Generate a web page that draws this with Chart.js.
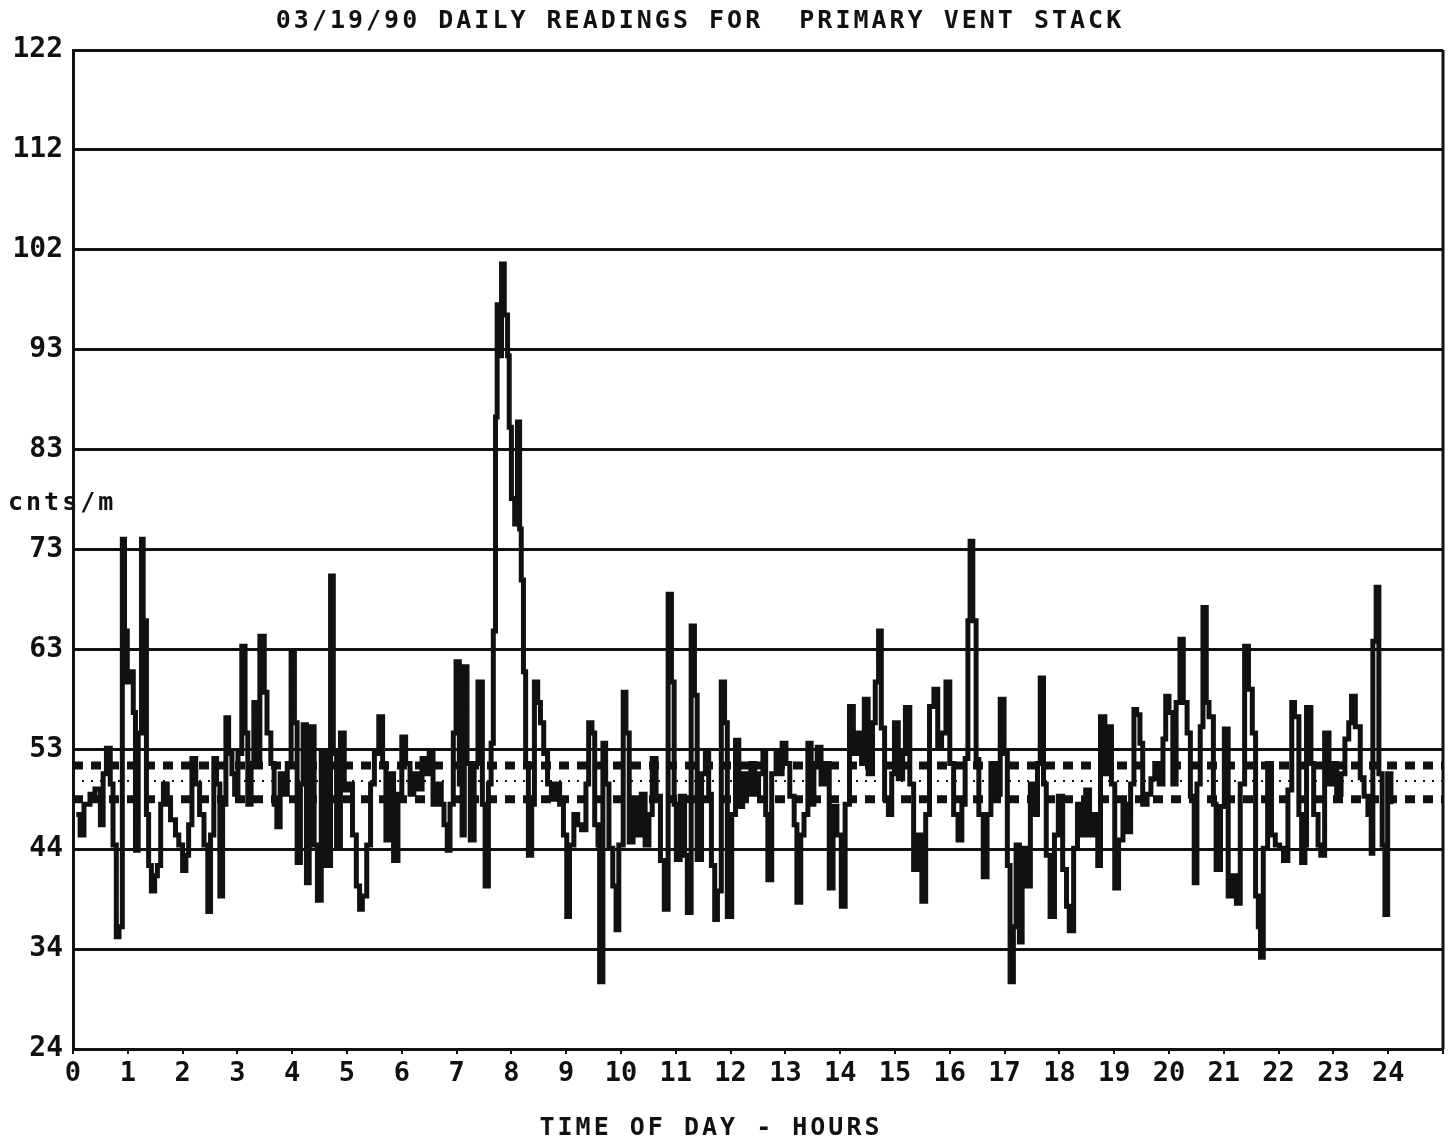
<!DOCTYPE html>
<html>
<head>
<meta charset="utf-8">
<title>03/19/90 Daily readings - primary vent stack</title>
<script src="https://cdn.jsdelivr.net/npm/chart.js@4.4.1/dist/chart.umd.min.js"></script>
<style>
  html, body { margin: 0; padding: 0; background: #fff; }
  #chart { display: block; }
</style>
</head>
<body>
<canvas id="chart" width="1451" height="1145"></canvas>
<script>
// readings: time of day (hours) and counts per minute
const hours = [
  0.06, 0.13, 0.20, 0.31, 0.40, 0.50, 0.55, 0.61, 0.68, 0.73, 0.79, 0.84, 0.90, 0.94, 0.99,
  1.05, 1.10, 1.14, 1.19, 1.25, 1.28, 1.34, 1.38, 1.43, 1.49, 1.54, 1.60, 1.65, 1.72, 1.78, 1.87, 1.93,
  2.00, 2.06, 2.11, 2.17, 2.24, 2.31, 2.39, 2.46, 2.51, 2.57, 2.62, 2.68, 2.73, 2.79, 2.84, 2.90, 2.95,
  3.01, 3.08, 3.14, 3.19, 3.25, 3.30, 3.36, 3.41, 3.49, 3.54, 3.61, 3.67, 3.72, 3.78, 3.85, 3.91, 3.98,
  4.04, 4.09, 4.15, 4.20, 4.26, 4.31, 4.35, 4.40, 4.46, 4.53, 4.61, 4.70, 4.75, 4.81, 4.88, 4.95,
  5.03, 5.10, 5.17, 5.23, 5.28, 5.36, 5.43, 5.50, 5.58, 5.65, 5.71, 5.78, 5.85, 5.93,
  6.00, 6.07, 6.15, 6.22, 6.29, 6.37, 6.44, 6.50, 6.57, 6.64, 6.72, 6.77, 6.83, 6.88, 6.94, 6.99,
  7.05, 7.10, 7.14, 7.19, 7.25, 7.32, 7.39, 7.47, 7.52, 7.58, 7.63, 7.67, 7.71, 7.74, 7.78, 7.82, 7.87, 7.93, 7.96,
  8.00, 8.06, 8.11, 8.15, 8.18, 8.22, 8.26, 8.31, 8.37, 8.42, 8.48, 8.53, 8.59, 8.66, 8.73, 8.81, 8.88, 8.95,
  9.01, 9.06, 9.14, 9.21, 9.28, 9.36, 9.41, 9.47, 9.52, 9.58, 9.61, 9.67, 9.72, 9.78, 9.85, 9.91, 9.96,
  10.04, 10.09, 10.15, 10.22, 10.29, 10.37, 10.44, 10.51, 10.57, 10.64, 10.72, 10.79, 10.86, 10.92, 10.97,
  11.01, 11.08, 11.16, 11.21, 11.28, 11.34, 11.39, 11.47, 11.54, 11.60, 11.65, 11.71, 11.76, 11.83, 11.89, 11.94,
  12.02, 12.09, 12.15, 12.22, 12.29, 12.37, 12.44, 12.51, 12.59, 12.64, 12.68, 12.75, 12.83, 12.88, 12.94,
  13.01, 13.08, 13.16, 13.21, 13.28, 13.34, 13.41, 13.47, 13.52, 13.58, 13.65, 13.72, 13.80, 13.87, 13.94,
  14.02, 14.09, 14.17, 14.24, 14.31, 14.39, 14.44, 14.51, 14.59, 14.64, 14.70, 14.75, 14.81, 14.88, 14.94, 14.99,
  15.06, 15.14, 15.19, 15.27, 15.34, 15.41, 15.49, 15.56, 15.63, 15.71, 15.78, 15.85, 15.93,
  16.00, 16.07, 16.15, 16.22, 16.28, 16.33, 16.37, 16.42, 16.48, 16.53, 16.61, 16.68, 16.75, 16.83, 16.92, 16.99,
  17.05, 17.10, 17.16, 17.21, 17.27, 17.32, 17.39, 17.47, 17.54, 17.60, 17.65, 17.71, 17.76, 17.83, 17.91, 17.98,
  18.06, 18.13, 18.18, 18.26, 18.33, 18.40, 18.48, 18.55, 18.62, 18.70, 18.75, 18.83, 18.88, 18.95,
  19.01, 19.08, 19.16, 19.23, 19.30, 19.36, 19.41, 19.47, 19.52, 19.60, 19.67, 19.74, 19.82, 19.89, 19.94,
  20.00, 20.07, 20.13, 20.20, 20.26, 20.33, 20.39, 20.46, 20.51, 20.57, 20.62, 20.68, 20.73, 20.81, 20.86, 20.94,
  21.01, 21.08, 21.16, 21.23, 21.30, 21.38, 21.45, 21.52, 21.58, 21.63, 21.67, 21.72, 21.80, 21.87, 21.94,
  22.02, 22.09, 22.17, 22.24, 22.29, 22.37, 22.42, 22.48, 22.51, 22.59, 22.64, 22.72, 22.77, 22.84, 22.92, 22.99,
  23.06, 23.14, 23.21, 23.28, 23.33, 23.40, 23.49, 23.56, 23.63, 23.69, 23.72, 23.78, 23.83, 23.89, 23.94, 23.99,
  24.05
];
const counts = [
  47, 45, 48, 49, 49.5, 46, 51, 53.5, 50, 44, 35, 36, 74, 65, 60,
  61, 57, 43.5, 55, 74, 66, 47, 42, 39.5, 41, 42, 48, 50, 48, 46.5, 45, 44,
  41.5, 43, 46, 52.5, 50, 47, 44, 37.5, 45, 52.5, 50, 39, 48, 56.5, 53, 51, 49,
  53, 63.5, 55, 48, 52, 58, 52, 64.5, 59, 55, 52, 48, 45.8, 51, 49, 52, 63,
  56, 42.3, 50, 55.8, 40.3, 47, 55.6, 44, 38.6, 53, 42, 70.4, 53, 43.9, 55, 49.4,
  50, 45, 40, 37.7, 39, 44, 50, 53, 56.6, 52, 44.5, 51, 42.5, 49,
  54.6, 52, 49, 51, 49.5, 52.5, 51, 53, 48, 50, 48, 46, 43.5, 48, 55, 62,
  50, 45, 61.5, 52, 44.5, 52, 60, 48, 40, 50, 54, 65, 86, 97, 92, 101, 96, 92, 85,
  78, 75.5, 85.5, 75, 70, 61, 52, 43, 48, 60, 58, 56, 53, 50, 48.5, 50, 48, 45,
  37, 44, 47, 46, 45.5, 50, 56, 55, 46, 44, 30.6, 54, 50, 43.7, 40, 35.7, 44,
  59, 55, 44.3, 48, 45, 49, 44, 47, 52.5, 48.8, 42.5, 37.7, 68.6, 60, 48,
  42.6, 48.8, 43, 37.4, 65.5, 58.7, 42.6, 51, 53, 49, 42, 36.7, 39.5, 60, 56, 37,
  47, 54.3, 47.8, 51, 49, 52, 49, 51, 53, 47, 40.6, 51, 53, 51, 54,
  52, 48.8, 46, 38.4, 45, 47, 54, 48, 52, 53.6, 50, 52, 39.8, 47.8, 45,
  38, 48, 57.6, 53, 55, 52, 58.3, 51, 56, 60, 65, 55.5, 48.5, 47, 51, 56,
  50.5, 53, 57.5, 50, 41.6, 45, 38.5, 47, 57.6, 59.3, 53.6, 55, 60,
  52, 47, 44.5, 48, 52.5, 66, 73.8, 66, 52.4, 47, 40.9, 47, 52, 49, 58.3, 53,
  42, 30.6, 36, 44, 34.5, 43.7, 40, 50, 47, 52, 60.4, 50, 43, 37, 45, 48.8,
  41.6, 38, 35.6, 43.7, 48, 45, 49.4, 45, 47, 42, 56.6, 51, 55.6, 50,
  39.8, 44.5, 48, 45.3, 50, 57.3, 56.8, 54, 48, 49, 50.5, 52, 50, 54.4, 58.6,
  57, 50, 58, 64.2, 58, 55, 48.8, 40.3, 50, 55.6, 67.3, 58, 56.6, 48, 41.6, 47.8,
  55.4, 39, 41, 38.3, 50, 63.5, 59.3, 55, 39, 36, 33, 43.7, 52, 45, 44,
  43.7, 42.5, 49.4, 58, 56.6, 47, 42.3, 44, 57.5, 52, 47, 44, 43, 55, 50, 52,
  49, 51, 54.4, 56, 58.6, 55.6, 50.6, 48.8, 47, 43.2, 64, 69.3, 51, 44, 37.2, 51,
  48
];

// daily mean (dotted) and the band around it (dashed)
const meanLevel = 50.3;
const bandLevels = [51.8, 48.5];

const yTickLabels = ['24', '34', '44', '53', '63', '73', '83', '93', '102', '112', '122'];
const hourLabels = ['0', '1', '2', '3', '4', '5', '6', '7', '8', '9', '10', '11', '12',
  '13', '14', '15', '16', '17', '18', '19', '20', '21', '22', '23', '24'];

const TITLE = '03/19/90 DAILY READINGS FOR  PRIMARY VENT STACK';
const X_TITLE = 'TIME OF DAY - HOURS';
const Y_TITLE = 'cnts/m';

const INK = '#111';
const MONO = '"DejaVu Sans Mono", "Liberation Mono", monospace';
const Y_MIN = 24, Y_MAX = 122, Y_STEP = 9.8;
const X_MIN = 0, X_MAX = 25;

// flat line across the whole day at one level
function level(v) {
  return [{ x: X_MIN, y: v }, { x: X_MAX, y: v }];
}

// frame on the right side + the free text (title, axis captions)
const captions = {
  id: 'captions',
  afterDatasetsDraw(chart) {
    const { ctx, chartArea } = chart;
    ctx.save();
    ctx.strokeStyle = INK;
    ctx.lineWidth = 3;
    ctx.beginPath();
    ctx.moveTo(chartArea.right, chartArea.top);
    ctx.lineTo(chartArea.right, chartArea.bottom);
    ctx.stroke();
    ctx.restore();
  },
  afterDraw(chart) {
    const { ctx } = chart;
    ctx.save();
    ctx.fillStyle = INK;
    ctx.textBaseline = 'middle';
    if ('letterSpacing' in ctx) ctx.letterSpacing = '3px';
    ctx.font = 'bold 25px ' + MONO;
    ctx.textAlign = 'center';
    ctx.fillText(TITLE, 700, 21);
    ctx.fillText(X_TITLE, 711, 1128);
    ctx.textAlign = 'left';
    ctx.fillText(Y_TITLE, 8, 503);
    ctx.restore();
  },
};

new Chart(document.getElementById('chart'), {
  type: 'line',
  data: {
    datasets: [
      {
        data: hours.map((h, i) => ({ x: h, y: counts[i] })),
        borderColor: INK,
        borderWidth: 5,
        stepped: true,
        pointRadius: 0,
        fill: false,
      },
      {
        data: level(meanLevel),
        borderColor: INK,
        borderWidth: 2,
        borderDash: [2, 7],
        pointRadius: 0,
      },
      ...bandLevels.map((v) => ({
        data: level(v),
        borderColor: INK,
        borderWidth: 8,
        borderDash: [10, 8],
        pointRadius: 0,
      })),
    ],
  },
  options: {
    responsive: false,
    animation: false,
    devicePixelRatio: 1,
    layout: { padding: { top: 50, right: 8, left: 0, bottom: 0 } },
    plugins: { legend: { display: false }, tooltip: { enabled: false } },
    scales: {
      x: {
        type: 'linear',
        min: X_MIN,
        max: X_MAX,
        ticks: {
          stepSize: 1,
          autoSkip: false,
          maxRotation: 0,
          padding: 4,
          color: INK,
          font: { family: MONO, size: 27, weight: 'bold' },
          callback: (v) => hourLabels[Math.round(v)] || '',
        },
        grid: { drawOnChartArea: false, drawTicks: true, tickLength: 5, color: INK, lineWidth: 2 },
        border: { display: true, color: INK, width: 3 },
        afterFit(scale) { scale.height = 96; },
      },
      y: {
        min: Y_MIN,
        max: Y_MAX,
        ticks: {
          stepSize: Y_STEP,
          padding: 10,
          color: INK,
          font: { family: MONO, size: 28, weight: 'bold' },
          callback: (v) => yTickLabels[Math.round((v - Y_MIN) / Y_STEP)],
        },
        grid: { color: INK, lineWidth: 3, drawTicks: false },
        border: { display: true, color: INK, width: 3 },
        afterFit(scale) { scale.width = 73; },
      },
    },
  },
  plugins: [captions],
});
</script>
</body>
</html>
